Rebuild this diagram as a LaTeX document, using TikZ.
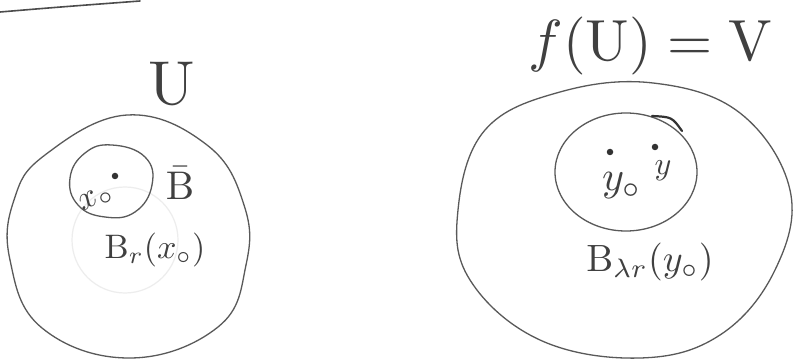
\documentclass[tikz,border=0pt]{standalone}
\begin{document}
\begin{tikzpicture}[x=1pt,y=-1pt,
  ink/.style={draw=black!65,line width=1.3pt,line join=round,line cap=round},
  faint/.style={draw=black!7,line width=1.2pt},
  lbl/.style={text=black!75,inner sep=0pt},
  dotmark/.style={circle,fill=black!80,inner sep=0pt,minimum size=6.5pt}]
\useasboundingbox[fill=white] (0,0) rectangle (794,363);
% top-left stroke
\coordinate (s1) at (0,12);
\coordinate (s2) at (140,1);
\draw[ink,line width=1.6pt,draw=black!70] (s1) .. controls (60,7) .. (s2);
% left big set U
\draw[ink] plot[smooth cycle,tension=0.7] coordinates {(127,115) (207,145) (244,205) (246,265) (218,327) (130,358) (42,328) (10,260) (14,200) (45,155)};
% faint erased circle
\draw[faint] (125,240) circle[radius=53];
% left small ball
\draw[ink] plot[smooth cycle,tension=0.75] coordinates {(112,145) (145,157) (152,185) (135,212) (105,217) (78,205) (70,178) (85,153)};
\node[dotmark] (x0dot) at (115,176) {};
\node[lbl,rotate=28,scale=3.4] (x0) at (96,199) {$x_{\circ}$};
\node[lbl,scale=4] (Bbar) at (180,183) {$\bar{\mathrm{B}}$};
\node[lbl,scale=3.4] (Br) at (155,250) {$\mathrm{B}_{r}(x_{\circ})$};
\node[lbl,scale=6.2] (U) at (172,83) {$\mathrm{U}$};
% right big set V
\draw[ink] plot[smooth cycle,tension=0.65] coordinates {(653,83) (740,113) (790,190) (775,270) (720,335) (640,358) (540,340) (470,280) (458,210) (485,130) (560,92)};
% right small ball
\draw[ink] (626,172) ellipse[x radius=71,y radius=59];
\draw[ink,line width=2.2pt,draw=black!80] (652,116) .. controls (672,117) .. (682,131);
\node[dotmark] (y0dot) at (610,152) {};
\node[dotmark] (ydot) at (655,147) {};
\node[lbl,scale=4.2] (y0) at (622,186) {$y_{\circ}$};
\node[lbl,scale=3.2] (y) at (663,171) {$y$};
\node[lbl,scale=3.8] (Blr) at (650,262) {$\mathrm{B}_{\lambda r}(y_{\circ})$};
\node[lbl,scale=5.8] (fUV) at (651,46) {$f(\mathrm{U})=\mathrm{V}$};
\end{tikzpicture}
\end{document}
